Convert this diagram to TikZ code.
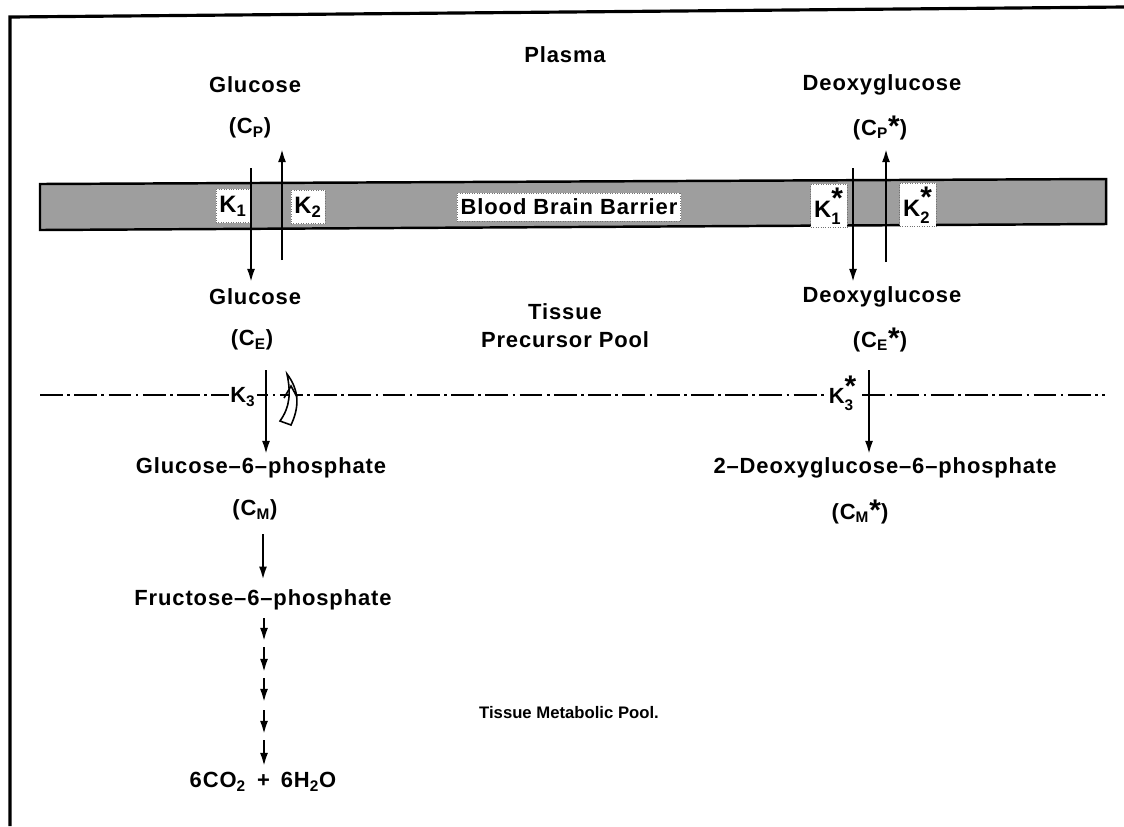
\documentclass[tikz,border=0pt]{standalone}
\usepackage{amsmath}
\usepackage{fontspec}
\setmainfont{Liberation Sans}[LetterSpace=4]
\newfontfamily\poolfont{Liberation Sans}
\usetikzlibrary{arrows.meta}

% large raised asterisk as printed in the scan
\newcommand{\bigstar}{\raisebox{-1pt}{\fontsize{17}{17}\selectfont*}}

\begin{document}
\begin{tikzpicture}[x=0.02cm, y=-0.02cm,
    lbl/.style={font=\bfseries\fontsize{12.5}{14}\selectfont, inner sep=1pt},
    kbox/.style={lbl, font=\bfseries\fontsize{13.5}{15}\selectfont, fill=white,
      draw=black!55, densely dotted, inner sep=2pt, minimum height=19pt},
    arr/.style={line width=1.5pt, -{Latex[length=8pt, width=4.5pt]}},
    frame/.style={line width=1.8pt},
    barrier/.style={line width=1.4pt, fill=black!38},
    dashdot/.style={line width=1.1pt, dash pattern=on 13pt off 2.5pt on 1.5pt off 2.5pt}]

  \useasboundingbox (0,0) rectangle (1124,826);

  % outer frame (only top and left edge are in view)
  \draw[frame] (10,826) -- (10,17) -- (1124,7);

  % the barrier band
  \draw[barrier] (40,184) -- (1106,179) -- (1106,224) -- (40,230) -- cycle;

  % plasma side
  \node[lbl] (plasma) at (565,55) {Plasma};
  \node[lbl] (glcP) at (255,85) {Glucose};
  \node[lbl] (cP) at (250,128) {(C\textsubscript{P})};
  \node[lbl] (dglcP) at (882,85) {Deoxyglucose};
  \node[lbl] (cPs) at (880,128) {(C\textsubscript{P}\bigstar)};

  % rate constants on the barrier
  \node[kbox] (k1) at (233,206) {K$_{\text{1}}$};
  \node[kbox] (k2) at (308,207) {K$_{\text{2}}$};
  \node[kbox, font=\bfseries\fontsize{12.5}{14}\selectfont, minimum height=16pt] (bbb) at (569,207) {Blood Brain Barrier};
  \node[kbox] (k1s) at (829,206) {K$_{\text{1}}^{\hbox{\bigstar}}$};
  \node[kbox] (k2s) at (918,205) {K$_{\text{2}}^{\hbox{\bigstar}}$};

  % transport through the barrier
  \coordinate (inG) at (251,168);   \coordinate (inGe) at (251,283);
  \coordinate (outG) at (282,260);  \coordinate (outGe) at (282,148);
  \coordinate (inD) at (853,168);   \coordinate (inDe) at (853,283);
  \coordinate (outD) at (886,262);  \coordinate (outDe) at (886,148);
  \draw[arr] (inG) -- (inGe);
  \draw[arr] (outG) -- (outGe);
  \draw[arr] (inD) -- (inDe);
  \draw[arr] (outD) -- (outDe);

  % tissue precursor pool
  \node[lbl] (glcE) at (255,297) {Glucose};
  \node[lbl] (cE) at (252,340) {(C\textsubscript{E})};
  \node[lbl] (tissue) at (565,312) {Tissue};
  \node[lbl] (prec) at (565,340) {Precursor Pool};
  \node[lbl] (dglcE) at (882,297) {Deoxyglucose};
  \node[lbl] (cEs) at (880,340) {(C\textsubscript{E}\bigstar)};

  % boundary between the pools
  \draw[dashdot] (40,395) -- (1105,395);
  \node[lbl, fill=white, inner sep=0.5pt] (k3) at (243,397) {K$_{\text{3}}$};
  \node[lbl, fill=white, inner sep=0.5pt] (k3s) at (843,393) {K$_{\text{3}}^{\hbox{\bigstar}}$};

  % phosphorylation
  \coordinate (phG) at (266,370);  \coordinate (phGe) at (266,455);
  \coordinate (phD) at (869,370);  \coordinate (phDe) at (869,455);
  \draw[arr] (phG) -- (phGe);
  \draw[arr] (phD) -- (phDe);

  % hollow curved arrow (slow back reaction)
  \draw[line width=0.9pt, fill=white] (280,421) -- (291,425)
    .. controls (299,408) and (300,391) .. (287,374)
    .. controls (291,393) and (290,407) .. (280,421) -- cycle;
  \draw[line width=0.9pt] (284,398) -- (291,386) -- (297,397);

  % tissue metabolic pool
  \node[lbl] (g6p) at (261,468) {Glucose--6--phosphate};
  \node[lbl] (cM) at (255,510) {(C\textsubscript{M})};
  \node[lbl] (dg6p) at (885,468) {2--Deoxyglucose--6--phosphate};
  \node[lbl] (cMs) at (860,512) {(C\textsubscript{M}\bigstar)};
  \node[lbl] (f6p) at (263,600) {Fructose--6--phosphate};
  \node[lbl] (co2) at (263,782) {6CO\textsubscript{2}\enspace+\enspace6H\textsubscript{2}O};
  \node[font=\poolfont\bfseries\fontsize{9.5}{11}\selectfont] (meta) at (569,713) {Tissue Metabolic Pool.};

  \draw[arr] (cM.south -| f6p) ++(0,12) coordinate (g6pOut) -- ([yshift=4pt]f6p.north);

  % chain of steps down to CO2 and water
  \foreach \ya/\yb in {618/642, 647/673, 678/703, 710/735, 740/767}
    \draw[arr] (264,\ya) -- (264,\yb);

\end{tikzpicture}
\end{document}
